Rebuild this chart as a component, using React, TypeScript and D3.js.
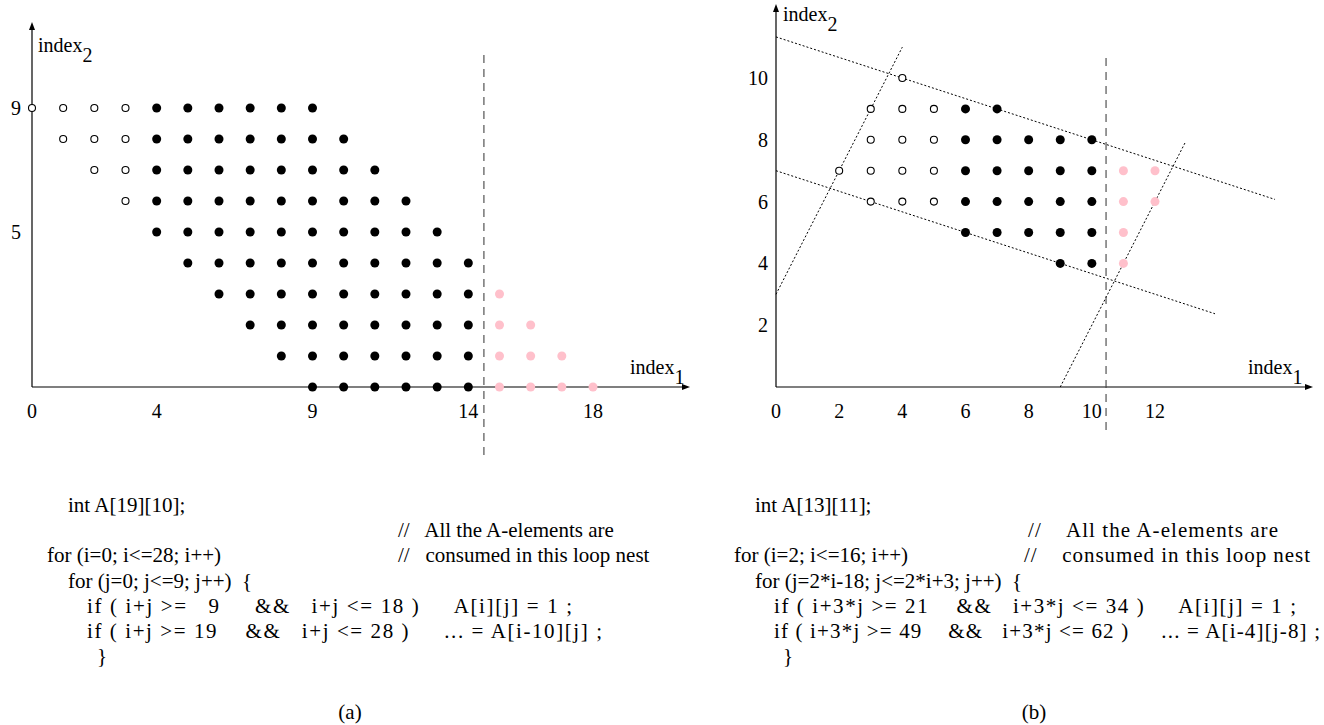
import * as d3 from "d3";

// ---- panel (a): rows of the index space, one entry per index2 value ----
// open = i range drawn as hollow dots, filled = i range solid, pink = i range consumed later
const leftRows = [
  { j: 9, open: [0, 3], filled: [4, 9], pink: null },
  { j: 8, open: [1, 3], filled: [4, 10], pink: null },
  { j: 7, open: [2, 3], filled: [4, 11], pink: null },
  { j: 6, open: [3, 3], filled: [4, 12], pink: null },
  { j: 5, open: null, filled: [4, 13], pink: null },
  { j: 4, open: null, filled: [5, 14], pink: null },
  { j: 3, open: null, filled: [6, 14], pink: [15, 15] },
  { j: 2, open: null, filled: [7, 14], pink: [15, 16] },
  { j: 1, open: null, filled: [8, 14], pink: [15, 17] },
  { j: 0, open: null, filled: [9, 14], pink: [15, 18] },
];
const leftXTicks = [0, 4, 9, 14, 18];
const leftYTicks = [5, 9];
const leftCut = 14.5;

// ---- panel (b) ----
const rightRows = [
  { j: 10, open: [4, 4], filled: null, pink: null },
  { j: 9, open: [3, 5], filled: [6, 7], pink: null },
  { j: 8, open: [3, 5], filled: [6, 10], pink: null },
  { j: 7, open: [2, 5], filled: [6, 10], pink: [11, 12] },
  { j: 6, open: [3, 5], filled: [6, 10], pink: [11, 12] },
  { j: 5, open: null, filled: [6, 10], pink: [11, 11] },
  { j: 4, open: null, filled: [9, 10], pink: [11, 11] },
];
const rightXTicks = [0, 2, 4, 6, 8, 10, 12];
const rightYTicks = [2, 4, 6, 8, 10];
const rightCut = 10.45;
// dotted bounding lines (index1, index2) end points
const rightBounds: [number, number][][] = [
  [[0, 3], [4, 11]],
  [[9, 0], [12.95, 7.9]],
  [[0, 11.33], [15.8, 6.07]],
  [[0, 7], [13.9, 2.37]],
];

// code listing: x = left edge, w = line width as seen in the figure (0 = natural)
const leftCode = [
  { x: 68, w: 0, line: 0, t: "int A[19][10];" },
  { x: 398, w: 0, line: 1, t: "//   All the A-elements are" },
  { x: 47, w: 0, line: 2, t: "for (i=0; i<=28; i++)" },
  { x: 398, w: 0, line: 2, t: "//   consumed in this loop nest" },
  { x: 68, w: 0, line: 3, t: "for (j=0; j<=9; j++)  {" },
  { x: 87, w: 485, line: 4, t: "if ( i+j >=   9     &&   i+j <= 18 )     A[i][j] = 1 ;" },
  { x: 87, w: 515, line: 5, t: "if ( i+j >= 19    &&   i+j <= 28 )     ... = A[i-10][j] ;" },
  { x: 97, w: 0, line: 6, t: "}" },
];
const rightCode = [
  { x: 755, w: 0, line: 0, t: "int A[13][11];" },
  { x: 1028, w: 250, line: 1, t: "//    All the A-elements are" },
  { x: 734, w: 0, line: 2, t: "for (i=2; i<=16; i++)" },
  { x: 1024, w: 286, line: 2, t: "//    consumed in this loop nest" },
  { x: 755, w: 0, line: 3, t: "for (j=2*i-18; j<=2*i+3; j++)  {" },
  { x: 774, w: 522, line: 4, t: "if ( i+3*j >= 21    &&   i+3*j <= 34 )     A[i][j] = 1 ;" },
  { x: 774, w: 546, line: 5, t: "if ( i+3*j >= 49    &&   i+3*j <= 62 )     ... = A[i-4][j-8] ;" },
  { x: 783, w: 0, line: 6, t: "}" },
];

const FONT = "'Liberation Serif', 'Times New Roman', serif";
const PINK = "#ffc0cb";
const FS = 20;
const CODE_FS = 21;

function expand(rows) {
  const pts = [];
  rows.forEach((r) => {
    if (r.open) d3.range(r.open[0], r.open[1] + 1).forEach((i) => pts.push({ i, j: r.j, kind: "open" }));
    if (r.filled) d3.range(r.filled[0], r.filled[1] + 1).forEach((i) => pts.push({ i, j: r.j, kind: "filled" }));
    if (r.pink) d3.range(r.pink[0], r.pink[1] + 1).forEach((i) => pts.push({ i, j: r.j, kind: "pink" }));
  });
  return pts;
}

function Dot({ cx, cy, kind }) {
  if (kind === "open")
    return <circle cx={cx} cy={cy} r={3.5} fill="#fff" stroke="#000" strokeWidth={1.1} />;
  return <circle cx={cx} cy={cy} r={4.5} fill={kind === "pink" ? PINK : "#000"} />;
}

function AxisLabel({ x, y, sub }) {
  return (
    <text x={x} y={y} fontFamily={FONT} fontSize={FS}>
      index
      <tspan dy={10}>{sub}</tspan>
    </text>
  );
}

function Panel({ x, y, rows, xTicks, yTicks, cut, cutY, xEnd, yTop, label1, label2, yLabelX, bounds }) {
  const pts = expand(rows);
  const x0 = x(0);
  const y0 = y(0);
  return (
    <g>
      {bounds &&
        bounds.map((b, k) => (
          <line
            key={k}
            x1={x(b[0][0])}
            y1={y(b[0][1])}
            x2={x(b[1][0])}
            y2={y(b[1][1])}
            stroke="#000"
            strokeWidth={1}
            strokeDasharray="2,2"
          />
        ))}
      {/* axes with arrow heads */}
      <line x1={x0} y1={y0} x2={xEnd} y2={y0} stroke="#000" strokeWidth={1.2} />
      <path d={`M${xEnd},${y0 - 3} L${xEnd + 8},${y0} L${xEnd},${y0 + 3} Z`} fill="#000" />
      <line x1={x0} y1={y0} x2={x0} y2={yTop} stroke="#000" strokeWidth={1.2} />
      <path d={`M${x0 - 3},${yTop} L${x0},${yTop - 8} L${x0 + 3},${yTop} Z`} fill="#000" />
      {/* cut line */}
      <line x1={x(cut)} y1={cutY[0]} x2={x(cut)} y2={cutY[1]} stroke="#444" strokeWidth={1.1} strokeDasharray="8,6" />
      {pts.map((p, k) => (
        <Dot key={k} cx={x(p.i)} cy={y(p.j)} kind={p.kind} />
      ))}
      {xTicks.map((t) => (
        <text key={t} x={x(t)} y={y0 + 31} textAnchor="middle" fontFamily={FONT} fontSize={FS}>
          {t}
        </text>
      ))}
      {yTicks.map((t) => (
        <text key={t} x={yLabelX} y={y(t) + 7} textAnchor="end" fontFamily={FONT} fontSize={FS}>
          {t}
        </text>
      ))}
      <AxisLabel x={label1[0]} y={label1[1]} sub="1" />
      <AxisLabel x={label2[0]} y={label2[1]} sub="2" />
    </g>
  );
}

function Code({ items, top }) {
  return (
    <g>
      {items.map((c, k) => (
        <text
          key={k}
          x={c.x}
          y={top + c.line * 25.2}
          fontFamily={FONT}
          fontSize={CODE_FS}
          style={{ whiteSpace: "pre" }}
          {...(c.w ? { textLength: c.w, lengthAdjust: "spacing" } : {})}
        >
          {c.t}
        </text>
      ))}
    </g>
  );
}

export default function App() {
  const xL = d3.scaleLinear().domain([0, 18]).range([32, 593]);
  const yL = d3.scaleLinear().domain([0, 9]).range([387, 108]);
  const xR = d3.scaleLinear().domain([0, 12]).range([776, 1155]);
  const yR = d3.scaleLinear().domain([0, 10]).range([387, 78]);

  return (
    <svg
      width={1324}
      height={725}
      style={{ position: "absolute", left: 0, top: 0, background: "#fff" }}
    >
      <Panel
        x={xL}
        y={yL}
        rows={leftRows}
        xTicks={leftXTicks}
        yTicks={leftYTicks}
        cut={leftCut}
        cutY={[55, 457]}
        xEnd={682}
        yTop={30}
        label1={[630, 374]}
        label2={[38, 52]}
        yLabelX={21}
        bounds={null}
      />
      <Panel
        x={xR}
        y={yR}
        rows={rightRows}
        xTicks={rightXTicks}
        yTicks={rightYTicks}
        cut={rightCut}
        cutY={[58, 430]}
        xEnd={1305}
        yTop={12}
        label1={[1248, 374]}
        label2={[783, 21]}
        yLabelX={768}
        bounds={rightBounds}
      />
      <Code items={leftCode} top={512} />
      <Code items={rightCode} top={512} />
      <text x={350} y={719} textAnchor="middle" fontFamily={FONT} fontSize={CODE_FS}>
        (a)
      </text>
      <text x={1034} y={719} textAnchor="middle" fontFamily={FONT} fontSize={CODE_FS}>
        (b)
      </text>
    </svg>
  );
}
